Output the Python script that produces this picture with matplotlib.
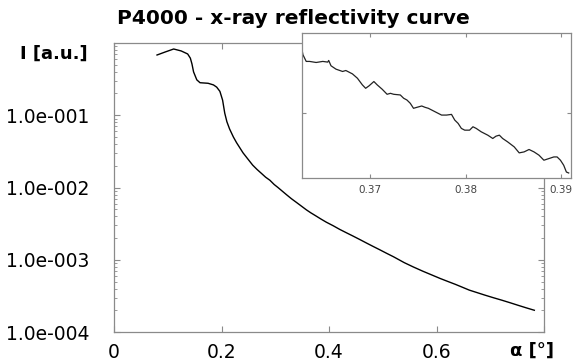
import numpy as np
import matplotlib
matplotlib.use("Agg")
import matplotlib.pyplot as plt

# main reflectivity curve
angle = [0.080, 0.095, 0.111, 0.125, 0.137, 0.142, 0.145, 0.148, 0.154, 0.160,
         0.175, 0.185, 0.191, 0.197, 0.202, 0.206, 0.210, 0.215, 0.222, 0.228,
         0.234, 0.240, 0.249, 0.258, 0.266, 0.275, 0.282, 0.290, 0.298, 0.305,
         0.313, 0.321, 0.330, 0.340, 0.349, 0.358, 0.366, 0.375, 0.385, 0.395,
         0.408, 0.420, 0.432, 0.444, 0.457, 0.470, 0.482, 0.494, 0.507, 0.520,
         0.540, 0.557, 0.575, 0.591, 0.607, 0.621, 0.635, 0.648, 0.661, 0.676,
         0.690, 0.706, 0.722, 0.737, 0.752, 0.767, 0.782]
intensity = [0.682, 0.750, 0.826, 0.776, 0.705, 0.617, 0.513, 0.398, 0.309, 0.282,
             0.277, 0.263, 0.245, 0.214, 0.162, 0.107, 0.0813, 0.0646, 0.0501, 0.0417,
             0.0355, 0.0302, 0.0248, 0.0204, 0.0178, 0.0155, 0.0139, 0.0126, 0.0110, 0.0100,
             0.00891, 0.00794, 0.00700, 0.00617, 0.00550, 0.00490, 0.00447, 0.00407, 0.00366, 0.00331,
             0.00295, 0.00263, 0.00237, 0.00214, 0.00191, 0.00170, 0.00153, 0.00138, 0.00123, 0.00110,
             0.000912, 0.000794, 0.000692, 0.000617, 0.000550, 0.000501, 0.000457, 0.000417, 0.000380, 0.000350,
             0.000324, 0.000298, 0.000275, 0.000254, 0.000234, 0.000216, 0.000200]

# zoomed part (inset), intensity in units of 1e-3
inset_angle = [0.36290, 0.36300, 0.36334, 0.36369, 0.36438, 0.36507, 0.36559, 0.36569, 0.36593, 0.36645,
               0.36714, 0.36748, 0.36817, 0.36869, 0.36921, 0.36955, 0.36990, 0.37041, 0.37076, 0.37128,
               0.37179, 0.37214, 0.37248, 0.37317, 0.37352, 0.37386, 0.37421, 0.37455, 0.37490, 0.37541,
               0.37576, 0.37610, 0.37679, 0.37748, 0.37800, 0.37852, 0.37886, 0.37921, 0.37955, 0.37990,
               0.38041, 0.38076, 0.38110, 0.38162, 0.38231, 0.38283, 0.38317, 0.38352, 0.38386, 0.38438,
               0.38507, 0.38559, 0.38610, 0.38662, 0.38714, 0.38766, 0.38817, 0.38869, 0.38921, 0.38955,
               0.38990, 0.39024, 0.39052, 0.39076]
inset_milli = [4.727, 4.675, 4.606, 4.606, 4.595, 4.606, 4.599, 4.616, 4.561, 4.526,
               4.502, 4.512, 4.477, 4.432, 4.363, 4.328, 4.353, 4.398, 4.363, 4.318,
               4.266, 4.276, 4.266, 4.259, 4.225, 4.207, 4.173, 4.121, 4.131, 4.145,
               4.131, 4.121, 4.086, 4.051, 4.051, 4.058, 3.999, 3.965, 3.913, 3.895,
               3.895, 3.930, 3.913, 3.878, 3.843, 3.809, 3.833, 3.843, 3.809, 3.774,
               3.722, 3.660, 3.670, 3.695, 3.670, 3.636, 3.584, 3.601, 3.618, 3.618,
               3.584, 3.532, 3.462, 3.452]

x_ticks = [0, 0.2, 0.4, 0.6, 0.8]
x_tick_labels = ['0', '0.2', '0.4', '0.6', '']
y_ticks = [1e-4, 1e-3, 1e-2, 1e-1]
y_tick_labels = ['1.0e-004', '1.0e-003', '1.0e-002', '1.0e-001']
inset_ticks = [0.37, 0.38, 0.39]

spine_col = '#8a8a8a'

fig = plt.figure(figsize=(5.75, 3.61), dpi=100)
ax = fig.add_axes([0.1983, 0.0803, 0.7478, 0.8006])
ax.plot(angle, intensity, color='black', lw=1.0)
ax.set_yscale('log')
ax.set_xlim(0, 0.8)
ax.set_ylim(1e-4, 1)
ax.set_xticks(x_ticks)
ax.set_xticklabels(x_tick_labels)
ax.set_yticks(y_ticks)
ax.set_yticklabels(y_tick_labels)
ax.tick_params(which='both', direction='in', top=True, right=True, color=spine_col, labelsize=13.5)
ax.tick_params(which='major', length=4)
ax.tick_params(which='minor', length=2)
ax.tick_params(axis='y', pad=18)
ax.tick_params(axis='x', pad=8)
for s in ax.spines.values():
    s.set_color(spine_col)
    s.set_linewidth(0.9)

fig.text(0.51, 0.948, 'P4000 - x-ray reflectivity curve', ha='center', va='center',
         fontsize=14.5, fontweight='bold')
fig.text(0.153, 0.851, 'I [a.u.]', ha='right', va='center', fontsize=13, fontweight='bold')
fig.text(0.925, 0.028, 'α [°]', ha='center', va='center', fontsize=13, fontweight='bold')

# inset with the zoomed region
ins = fig.add_axes([0.5252, 0.5069, 0.4678, 0.4017])
ins.plot(inset_angle, inset_milli, color='#222222', lw=0.9)
ins.set_xlim(0.3629, 0.3910)
ins.set_ylim(3.40, 4.90)
ins.set_xticks(inset_ticks)
ins.set_xticklabels(['0.37', '0.38', '0.39'])
ins.set_yticks([4.07])
ins.set_yticklabels([])
ins.tick_params(direction='in', top=True, right=True, length=3, color=spine_col,
                labelsize=7.5, labelcolor='#444444', pad=5)
for s in ins.spines.values():
    s.set_color(spine_col)
    s.set_linewidth(0.9)

fig.savefig('out.png', dpi=100)
